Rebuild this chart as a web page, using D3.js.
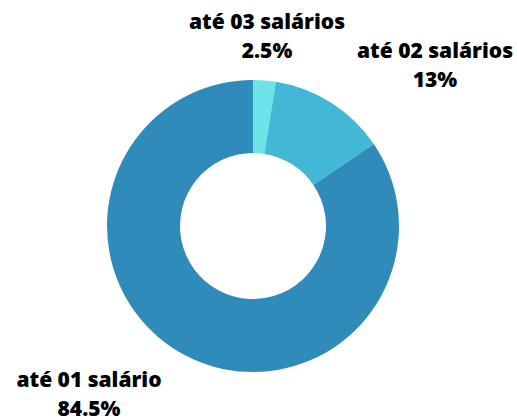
<!DOCTYPE html>
<html><head><meta charset="utf-8">
<script src="https://cdn.jsdelivr.net/npm/d3@7"></script>
<style>html,body{margin:0;padding:0;background:#fff;}</style>
</head><body>
<svg id="chart" width="517" height="419"></svg>
<script>
const categories = ["até 03 salários", "até 02 salários", "até 01 salário"];
const values = [2.5, 13, 84.5];
const valueLabels = ["2.5%", "13%", "84.5%"];
const colors = ["#6ce4e8", "#42b7d6", "#2e8bba"];
// label block anchors (layout only): first-line baseline
const labelPos = [[267, 29], [435, 58], [89, 387]];

const W = 517, H = 419, cx = 253, cy = 226, R = 146, r = 73;
const svg = d3.select("#chart");
const g = svg.append("g").attr("transform", `translate(${cx},${cy})`);
const pie = d3.pie().sort(null).value(d => d)(values);
const arc = d3.arc().innerRadius(r).outerRadius(R);
const color = d3.scaleOrdinal().domain(categories).range(colors);
g.selectAll("path").data(pie).join("path")
  .attr("d", arc).attr("fill", (d, i) => color(categories[i]));

const lab = svg.selectAll("g.lab").data(categories).join("g")
  .attr("class", "lab")
  .attr("transform", (d, i) => `translate(${labelPos[i][0]},${labelPos[i][1]})`);
lab.append("text").attr("text-anchor", "middle").attr("y", 0)
  .style("font-family", "'Open Sans'").style("font-weight", 800).style("font-size", "21px")
  .attr("fill", "#000").text(d => d);
lab.append("text").attr("text-anchor", "middle").attr("y", 29)
  .style("font-family", "'Open Sans'").style("font-weight", 800).style("font-size", "21px")
  .attr("fill", "#000").text((d, i) => valueLabels[i]);
</script>
</body></html>
